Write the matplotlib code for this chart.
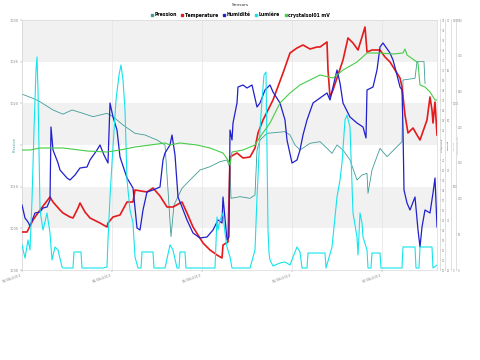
import numpy as np
import matplotlib
matplotlib.use('Agg')
import matplotlib.pyplot as plt
import matplotlib.dates as mdates
from matplotlib.lines import Line2D
from matplotlib.ticker import FuncFormatter

# logger samples every 16 minutes, x values are sample numbers
start = np.datetime64('2013-06-03T00:00')
step = np.timedelta64(16, 'm')
n_samples = 415

# Pression (hPa)
pres_idx = [0, 11, 18, 31, 41, 50, 61, 71, 85, 91, 101, 113, 123, 135, 143, 146, 149, 152, 160, 168,
            178, 188, 198, 205, 208, 209, 218, 228, 233, 235, 238, 245, 263, 268, 273, 278, 288, 298, 305, 310,
            315, 321, 328, 335, 340, 345, 346, 350, 358, 365, 375, 380, 381, 393, 395, 402, 403]
pres_hpa = [1021.1, 1020.6, 1020.2, 1019.2, 1018.7, 1019.2, 1018.8, 1018.4, 1018.8, 1018.4,
            1017.4, 1016.4, 1016.2, 1015.6, 1015.0, 1009.6, 1004.0, 1007.8, 1009.8, 1010.8,
            1012.0, 1012.4, 1013.0, 1013.2, 1012.2, 1008.6, 1008.8, 1008.6, 1009.0, 1014.4,
            1015.6, 1016.4, 1016.6, 1016.2, 1015.0, 1014.4, 1015.2, 1015.4, 1014.6, 1014.0,
            1015.0, 1014.4, 1013.2, 1010.8, 1011.4, 1011.6, 1009.2, 1012.0, 1014.6, 1013.6,
            1014.8, 1015.4, 1022.8, 1023.0, 1025.0, 1025.0, 1022.4]

# Temperature (C)
temp_idx = [0, 5, 11, 18, 28, 31, 38, 41, 48, 51, 56, 58, 63, 68, 78, 85, 86, 91, 98, 105,
            111, 113, 125, 131, 138, 145, 151, 160, 165, 171, 181, 188, 195, 200, 201, 206, 208, 215, 221, 228,
            233, 236, 241, 251, 261, 268, 275, 281, 288, 295, 298, 305, 306, 308, 311, 321, 326, 331, 336, 340,
            343, 345, 350, 358, 363, 368, 373, 378, 380, 383, 386, 391, 395, 398, 405, 408, 410, 411, 413, 415]
temp_c = [13.8, 13.8, 15.0, 16.0, 17.3, 16.8, 16.0, 15.7, 15.3, 15.2,
          16.2, 16.7, 15.8, 15.2, 14.7, 14.3, 14.7, 15.3, 15.5, 16.8,
          16.8, 18.0, 17.8, 18.2, 17.4, 16.3, 16.3, 16.8, 15.7, 14.3,
          12.7, 12.0, 11.5, 11.2, 12.5, 12.8, 21.3, 21.7, 21.2, 21.3,
          22.2, 23.7, 25.0, 27.0, 29.7, 31.7, 32.2, 32.5, 32.1, 32.3,
          32.3, 32.8, 30.0, 27.3, 28.0, 31.0, 33.2, 32.7, 32.0, 33.3,
          34.3, 31.8, 32.0, 32.0, 31.3, 30.8, 30.0, 29.2, 28.3, 25.5,
          23.7, 24.2, 23.5, 23.0, 25.0, 27.3, 26.0, 24.7, 26.8, 23.5]

# Humidite (%)
hum_idx = [0, 3, 6, 8, 13, 18, 21, 25, 28, 29, 31, 36, 38, 45, 48, 53, 58, 65, 68, 75,
           78, 82, 86, 88, 91, 95, 98, 105, 111, 115, 118, 121, 125, 131, 138, 141, 143, 148, 150, 153,
           156, 160, 165, 171, 178, 185, 191, 196, 200, 201, 205, 207, 208, 210, 211, 215, 216, 221, 225, 230,
           235, 238, 243, 248, 251, 258, 263, 265, 270, 275, 278, 281, 285, 291, 298, 305, 308, 311, 315, 318,
           321, 328, 335, 341, 344, 345, 351, 355, 358, 361, 368, 371, 375, 378, 380, 381, 382, 385, 388, 393,
           396, 398, 400, 403, 408, 411, 413, 415]
hum_pct = [33.0, 30.4, 29.6, 28.8, 31.4, 31.6, 32.4, 32.6, 34.0, 48.6,
           44.0, 41.4, 40.0, 38.4, 38.0, 39.0, 40.4, 40.6, 42.0, 44.0,
           45.0, 43.0, 41.4, 53.4, 50.6, 48.0, 42.6, 38.4, 36.4, 28.4,
           28.0, 32.0, 35.6, 36.0, 36.6, 42.0, 43.4, 45.0, 47.0, 43.0,
           34.6, 32.6, 30.0, 27.4, 26.4, 26.6, 28.0, 30.0, 29.4, 34.6,
           26.0, 26.6, 48.0, 46.0, 49.4, 53.4, 56.6, 57.0, 56.4, 57.0,
           52.6, 53.4, 56.0, 57.0, 55.6, 53.4, 50.0, 46.0, 41.4, 42.0,
           44.0, 47.0, 50.0, 53.4, 54.4, 55.4, 54.0, 56.6, 60.0, 57.4,
           53.4, 50.6, 49.4, 48.6, 46.4, 56.0, 56.6, 60.0, 64.6, 65.4,
           63.4, 62.0, 59.0, 56.6, 56.0, 48.0, 36.0, 33.4, 32.0, 34.6,
           28.0, 24.6, 28.6, 32.0, 31.4, 35.4, 38.4, 28.6]

# Lumiere (lux)
light_idx = [0, 3, 6, 8, 10, 12, 14, 15, 16, 18, 21, 25, 28, 30, 33, 36, 40, 41, 51, 52,
             59, 60, 81, 85, 86, 88, 90, 94, 97, 99, 101, 103, 105, 108, 111, 113, 116, 119, 120, 131,
             132, 143, 148, 151, 155, 157, 158, 163, 164, 193, 195, 196, 198, 201, 203, 205, 208, 210, 228, 233,
             235, 236, 238, 240, 242, 244, 245, 246, 247, 248, 251, 258, 263, 268, 271, 275, 278, 280, 285, 286,
             303, 304, 310, 315, 318, 320, 323, 325, 328, 331, 335, 336, 338, 340, 341, 345, 346, 349, 350, 358,
             359, 380, 381, 393, 394, 397, 398, 410, 411, 415]
light_lux = [150, 72, 180, 120, 420, 840, 1200, 1278, 1080, 360,
             240, 342, 222, 60, 138, 120, 18, 12, 12, 108,
             108, 12, 12, 18, 180, 438, 642, 1020, 1170, 1230,
             1140, 960, 540, 360, 282, 78, 12, 12, 108, 108,
             12, 12, 150, 120, 12, 12, 108, 108, 12, 12,
             318, 240, 300, 342, 222, 138, 78, 12, 12, 120,
             438, 558, 840, 1020, 1170, 1188, 720, 240, 102, 60,
             24, 42, 48, 30, 78, 138, 108, 12, 12, 102,
             102, 12, 138, 438, 540, 642, 900, 930, 858, 342,
             198, 90, 342, 282, 198, 120, 12, 12, 102, 102,
             12, 12, 138, 138, 12, 12, 138, 138, 12, 30]

# crystalsol01 (mV)
cryst_idx = [0, 8, 18, 28, 41, 65, 85, 98, 113, 128, 143, 148, 158, 175, 188, 201, 206, 208, 210, 221,
             233, 238, 248, 258, 268, 278, 288, 298, 311, 315, 321, 335, 345, 358, 371, 381, 383, 385, 395, 396,
             398, 403, 408, 413, 415]
cryst_mv = [168, 168, 170.8, 170.8, 170.8, 166.6, 165.2, 168, 172.2, 175,
            177.8, 175, 177.8, 175, 170.8, 163.8, 154, 147, 165.2, 168,
            175, 186.2, 205.8, 233.8, 247.8, 259, 266, 273, 268.8, 273,
            280, 291.2, 303.8, 303.8, 302.4, 303.8, 309.4, 301, 291.2, 289.8,
            259, 256.2, 249.2, 238, 238]

c_pres = '#3f9c98'
c_temp = '#e41a1c'
c_hum = '#2020cc'
c_light = '#12e4ec'
c_cryst = '#47cc47'
tick_grey = '#888888'


def times(idx):
    return start + np.array(idx) * step


def mid_blank(lo, hi, frac=0.045):
    # leave the middle of the axis free for the (tiny) axis label
    mid = (lo + hi) / 2.0
    span = (hi - lo) * frac

    def fmt(v, pos):
        if abs(v - mid) < span:
            return ''
        return '%g' % v
    return FuncFormatter(fmt)


fig = plt.figure(figsize=(4.8, 3.6), dpi=100)
ax = fig.add_axes([22 / 480, 90 / 360, 415 / 480, 250 / 360])

# alternating bands on the host axis
ax.set_ylim(1000, 1030)
for lo in (1005, 1015, 1025):
    ax.axhspan(lo, lo + 5, color='#f1f1f1', lw=0, zorder=0)
ax.set_yticks(np.arange(1000, 1031, 5))
ax.yaxis.set_major_formatter(mid_blank(1000, 1030))
ax.plot(times(pres_idx), pres_hpa, color=c_pres, lw=0.6, zorder=2)
ax.set_xlim(start, start + n_samples * step)
ax.xaxis.set_major_locator(mdates.DayLocator())
ax.xaxis.set_major_formatter(mdates.DateFormatter('%d/%m/%Y'))
ax.grid(axis='x', color='#e4e4e4', lw=0.5)
ax.set_axisbelow(True)
for lab in ax.get_xticklabels():
    lab.set_rotation(20)
    lab.set_ha('right')
ax.tick_params(axis='both', labelsize=2.5, colors=tick_grey, length=1.5, width=0.3, pad=1)
ax.set_ylabel('Pression', fontsize=2.5, color=c_pres)
ax.yaxis.set_label_coords(-0.012, 0.5)
for s in ax.spines.values():
    s.set_color('#d0d0d0')
    s.set_linewidth(0.4)

# extra right axes: (data idx, values, color, label, limits, tick step, offset px, line width)
extra = [
    (temp_idx, temp_c, c_temp, 'Temperature', (10, 35), 1, 3, 1.2),
    (hum_idx, hum_pct, c_hum, 'Humidité', (20, 70), 10, 8, 0.9),
    (light_idx, light_lux, c_light, 'Lumière', (0, 1500), 500, 14, 0.8),
    (cryst_idx, cryst_mv, c_cryst, 'crystalsol01 mV', (0, 350), 50, 19, 0.8),
]
for idx, vals, col, label, lim, stp, off, lw in extra:
    tw = ax.twinx()
    tw.spines['right'].set_position(('outward', off * 0.72))
    for name, s in tw.spines.items():
        s.set_visible(name == 'right')
    tw.spines['right'].set_color('#c8c8c8')
    tw.spines['right'].set_linewidth(0.4)
    tw.plot(times(idx), vals, color=col, lw=lw)
    tw.set_ylim(*lim)
    tw.set_yticks(np.arange(lim[0], lim[1] + stp / 2, stp))
    tw.yaxis.set_major_formatter(mid_blank(lim[0], lim[1]))
    tw.tick_params(axis='y', labelsize=1.8, colors=tick_grey, length=1, width=0.3, pad=0.5)
    tw.set_ylabel(label, fontsize=1.6, color=col)
    tw.yaxis.set_label_coords(1.0 + (off + 2) / 415, 0.5)

handles = [Line2D([], [], marker='s', ls='none', ms=2, color=c) for c in (c_pres, c_temp, c_hum, c_light, c_cryst)]
labels = ['Pression', 'Temperature', 'Humidité', 'Lumière', 'crystalsol01 mV']
fig.legend(handles, labels, loc='center', bbox_to_anchor=(0.5, 345 / 360), ncol=5, frameon=False,
           prop={'size': 3.3, 'weight': 'bold'}, handletextpad=0.2, columnspacing=0.8, handlelength=0.8)
fig.text(0.5, 355 / 360, 'Sensors', ha='center', va='center', fontsize=3.2, color='#333333')

fig.savefig('out.png', dpi=100)
